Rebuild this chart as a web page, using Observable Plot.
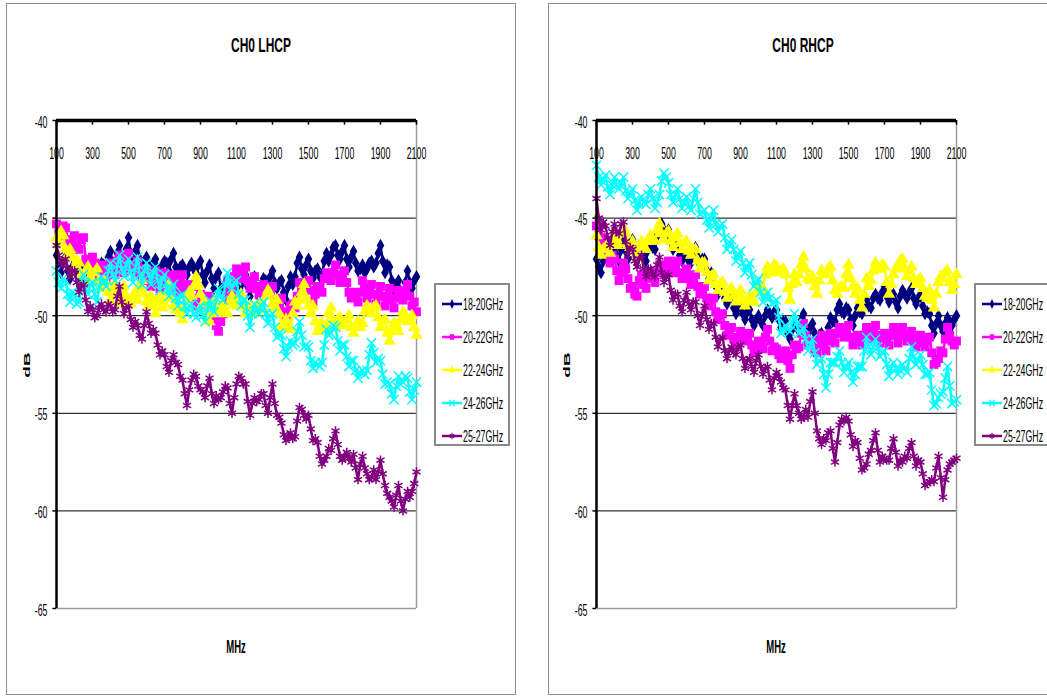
<!DOCTYPE html>
<html>
<head>
<meta charset="utf-8">
<script src="https://cdn.jsdelivr.net/npm/d3@7"></script>
<script src="https://cdn.jsdelivr.net/npm/@observablehq/plot@0.6"></script>
<style>
  body { margin: 0; background: #fff; }
  #root { position: relative; width: 1047px; height: 696px; overflow: hidden; font-family: "Liberation Sans", Arial, sans-serif; background: #fff; }
  .panel { position: absolute; top: 3px; height: 692px; border: 1px solid #8c8c8c; box-sizing: border-box; background: #fff; }
  .lbl { position: absolute; white-space: nowrap; color: #000; line-height: 1; }
  .legend { position: absolute; width: 76px; height: 163px; border: 2px solid #8a8a8a; box-sizing: border-box; background: #fff; }
  .row { position: absolute; left: 0; height: 20px; }
  .row svg { position: absolute; left: 5px; top: 3px; }
  .row span { position: absolute; left: 27px; top: 2px; font-size: 16px; white-space: nowrap; transform: scaleX(0.55); transform-origin: left center; }
  svg.chart { position: absolute; top: 0; }
</style>
</head>
<body>
<div id="root"></div>
<script>
// ---------- data ----------
// main frequency grid (MHz)
const mhz = [100,125,150,175,200,225,250,275,300,325,350,375,400,425,450,475,500,525,550,575,
  600,625,650,675,700,725,750,775,800,825,850,875,900,925,950,975,1000,1025,1050,1075,
  1100,1125,1150,1175,1200,1225,1250,1275,1300,1325,1350,1375,1400,1425,1450,1475,1500,1525,1550,1575,
  1600,1625,1650,1675,1700,1725,1750,1775,1800,1825,1850,1875,1900,1925,1950,1975,2000,2025,2050,2075,2100];
// in-between frequencies (MHz)
const mhzMid = [112.5,137.5,162.5,187.5,212.5,237.5,262.5,287.5,312.5,337.5,362.5,387.5,412.5,437.5,462.5,487.5,
  512.5,537.5,562.5,587.5,612.5,637.5,662.5,687.5,712.5,737.5,762.5,787.5,812.5,837.5,862.5,887.5,
  912.5,937.5,962.5,987.5,1012.5,1037.5,1062.5,1087.5,1112.5,1137.5,1162.5,1187.5,1212.5,1237.5,1262.5,1287.5,
  1312.5,1337.5,1362.5,1387.5,1412.5,1437.5,1462.5,1487.5,1512.5,1537.5,1562.5,1587.5,1612.5,1637.5,1662.5,1687.5,
  1712.5,1737.5,1762.5,1787.5,1812.5,1837.5,1862.5,1887.5,1912.5,1937.5,1962.5,1987.5,2012.5,2037.5,2062.5,2087.5];

const seriesNames = ["18-20GHz", "20-22GHz", "22-24GHz", "24-26GHz", "25-27GHz"];

// CH0 LHCP (dB) on mhz grid
const lhcp_18_20 = [-46.9,-47.8,-47.0,-48.1, -47.3,-48.3,-47.4,-48.2, -47.2,-47.9,-47.3,-47.8, -46.7,-47.6,-46.4,-47.5,
  -46.0,-47.3,-46.4,-47.6, -47.0,-47.7,-47.1,-47.8, -47.2,-47.7,-46.8,-47.9, -47.4,-47.9,-47.3,-47.8,
  -47.2,-48.3,-47.4,-48.6, -47.8,-49.0,-48.1,-49.0, -48.0,-48.9,-47.9,-49.0, -48.0,-49.1,-48.1,-48.6,
  -47.7,-48.6,-48.2,-49.2, -48.0,-48.0,-47.0,-47.9, -47.1,-48.1,-47.6,-47.9, -46.8,-46.9,-46.4,-47.1,
  -46.4,-47.5,-46.7,-47.7, -47.4,-47.6,-47.2,-47.3, -46.4,-47.8,-47.5,-48.7, -48.2,-49.1,-47.7,-48.6, -48.0];
const lhcp_20_22 = [-45.3,-45.9,-45.5,-46.3, -45.9,-46.6,-46.0,-47.3, -47.0,-47.9,-47.4,-48.1, -47.3,-47.9,-46.9,-47.8,
  -46.8,-47.7,-47.2,-48.2, -47.6,-48.5,-47.7,-48.6, -47.8,-48.7,-47.9,-48.8, -47.9,-48.9,-48.5,-49.4,
  -48.9,-49.4,-49.0,-50.0, -50.8,-49.9,-48.3,-48.7, -47.6,-48.1,-47.5,-48.6, -48.0,-48.9,-48.4,-48.9,
  -48.5,-49.5,-49.1,-50.1, -49.5,-49.6,-48.3,-48.7, -48.2,-49.3,-48.5,-48.8, -47.8,-48.2,-47.4,-48.3,
  -47.7,-48.8,-48.8,-49.3, -48.2,-49.1,-48.4,-49.4, -48.5,-49.5,-48.6,-49.6, -48.7,-49.2,-48.4,-49.5, -49.8];
const lhcp_22_24 = [-46.0,-45.7,-46.6,-46.6, -47.5,-47.3,-48.2,-47.5, -48.2,-47.6,-48.6,-48.3, -49.2,-48.3,-49.4,-48.5,
  -49.3,-49.0,-49.2,-48.2, -49.3,-49.0,-49.9,-49.0, -49.4,-48.4,-49.5,-49.4, -50.2,-49.1,-49.0,-48.0,
  -48.9,-49.3,-50.3,-49.3, -49.8,-49.6,-49.9,-49.0, -49.5,-48.9,-49.9,-49.5, -49.8,-49.4,-49.7,-48.7,
  -49.4,-49.2,-50.5,-50.2, -50.7,-49.3,-49.2,-48.4, -49.5,-49.5,-50.8,-50.4, -50.5,-49.6,-50.6,-50.1,
  -50.5,-50.0,-50.9,-50.3, -50.4,-49.5,-49.9,-49.5, -50.6,-50.2,-51.3,-50.4, -50.8,-49.8,-50.3,-50.0, -51.0];
const lhcp_24_26 = [-47.7,-48.6,-48.2,-49.3, -48.9,-49.3,-47.9,-48.9, -48.3,-49.3,-48.0,-48.5, -47.3,-48.2,-46.9,-48.0,
  -47.1,-48.3,-47.0,-48.4, -47.3,-48.4,-47.5,-48.7, -47.9,-49.0,-48.4,-49.5, -48.9,-49.9,-49.4,-50.1,
  -49.5,-50.3,-49.2,-49.8, -48.6,-49.2,-47.8,-48.6, -48.2,-49.5,-49.2,-50.6, -49.4,-49.9,-49.3,-50.4,
  -49.9,-51.1,-51.0,-52.1, -51.3,-51.4,-50.3,-51.6, -51.6,-52.7,-52.5,-52.4, -50.7,-50.9,-50.6,-51.8,
  -51.5,-52.6,-52.3,-53.2, -52.8,-52.8,-51.4,-52.4, -52.3,-53.5,-53.5,-54.3, -53.1,-53.4,-53.2,-54.3, -53.4];
const lhcp_25_27 = [-46.4,-47.3,-47.1,-48.0, -47.7,-48.8,-48.4,-49.8, -49.7,-50.0,-49.4,-49.8, -49.5,-49.7,-48.5,-49.9,
  -49.5,-50.6,-50.5,-51.2, -49.8,-50.9,-50.9,-52.0, -52.0,-52.9,-52.0,-52.5, -53.3,-54.6,-53.3,-53.1,
  -53.8,-54.2,-53.2,-54.5, -54.3,-53.9,-53.7,-55.0, -53.5,-53.2,-53.5,-55.1, -54.2,-54.3,-54.0,-55.0,
  -53.5,-55.1,-55.5,-56.4, -56.0,-56.2,-54.7,-55.1, -55.1,-56.4,-56.5,-57.6, -57.2,-56.9,-55.9,-57.2,
  -57.2,-57.3,-57.1,-58.4, -57.2,-58.1,-58.3,-58.4, -57.4,-58.7,-59.3,-59.8, -58.7,-60.0,-59.0,-59.0, -58.0];

// CH0 LHCP (dB) on mhzMid
const lhcp_18_20_mid = [-47.6,-47.2,-47.7,-47.5, -47.9,-47.7,-47.6,-47.4, -47.7,-47.5,-47.4,-47.0, -47.3,-46.8,-47.1,-46.6,
  -46.8,-46.7,-47.1,-47.2, -47.5,-47.3,-47.6,-47.4, -47.3,-47.1,-47.5,-47.5, -47.7,-47.5,-47.6,-47.4,
  -47.9,-47.7,-48.1,-48.0, -48.6,-48.4,-48.7,-48.3, -48.6,-48.2,-48.5,-48.4, -48.7,-48.5,-48.2,-48.0,
  -48.3,-48.3,-48.8,-48.5, -48.4,-47.3,-47.6,-47.4, -47.7,-47.7,-48.0,-47.2, -47.2,-46.5,-46.9,-46.7,
  -47.1,-47.0,-47.3,-47.6, -47.8,-47.3,-47.5,-46.8, -47.2,-47.4,-48.2,-48.4, -48.8,-48.3,-48.3,-48.2];
const lhcp_20_22_mid = [-45.8,-45.4,-46.1,-46.4, -46.5,-46.1,-47.1,-47.6, -47.3,-48.0,-47.6,-47.9, -47.5,-47.2,-47.5,-47.1,
  -47.4,-47.8,-47.6,-48.1, -48.2,-48.0,-48.3,-48.2, -48.4,-48.1,-48.5,-48.3, -48.6,-48.4,-49.1,-49.5,
  -49.3,-49.1,-49.6,-50.5, -50.3,-49.1,-48.2,-48.0, -47.8,-47.7,-48.2,-48.5, -48.6,-48.5,-48.8,-48.6,
  -49.2,-49.4,-49.8,-49.9, -49.4,-49.0,-48.6,-48.4, -48.7,-48.9,-48.6,-48.1, -47.9,-47.8,-47.9,-48.0,
  -48.3,-49.1,-49.0,-48.8, -48.6,-48.8,-48.9,-49.0, -49.0,-49.1,-49.2,-49.1, -48.9,-48.8,-49.0,-49.3];
const lhcp_22_24_mid = [-46.3,-45.9,-46.9,-47.0, -47.2,-47.9,-47.7,-48.0, -47.8,-48.3,-48.2,-48.8, -48.7,-48.9,-48.8,-49.0,
  -49.4,-48.8,-48.6,-48.9, -49.5,-49.5,-49.3,-49.6, -48.8,-49.1,-49.7,-49.9, -49.6,-48.8,-48.5,-48.4,
  -49.4,-49.9,-49.6,-49.9, -49.5,-49.8,-49.3,-49.4, -49.1,-49.5,-49.6,-49.9, -49.5,-49.6,-49.0,-48.9,
  -49.6,-49.9,-50.6,-50.6, -49.9,-49.5,-48.8,-49.1, -49.9,-50.3,-50.5,-50.7, -49.9,-50.2,-50.2,-50.4,
  -50.2,-50.6,-50.5,-50.6, -49.8,-49.8,-49.6,-50.1, -50.3,-50.9,-50.8,-50.5, -50.2,-50.0,-50.2,-50.6];
const lhcp_24_26_mid = [-48.3,-48.1,-48.9,-48.8, -49.4,-48.4,-48.6,-48.4, -48.9,-48.5,-48.3,-47.7, -47.9,-47.4,-47.6,-47.4,
  -47.8,-47.5,-47.9,-47.7, -47.9,-47.8,-48.2,-48.1, -48.6,-48.6,-49.1,-49.0, -49.5,-49.5,-49.9,-49.7,
  -50.0,-49.6,-49.6,-49.1, -49.0,-48.4,-48.3,-48.3, -48.9,-49.2,-50.0,-49.9, -49.8,-49.5,-49.9,-50.0,
  -50.6,-50.9,-51.7,-51.6, -51.5,-50.8,-51.0,-51.5, -52.3,-52.4,-52.6,-51.5, -51.0,-50.5,-51.3,-51.5,
  -52.1,-52.3,-52.8,-52.9, -53.0,-52.0,-51.9,-52.2, -53.0,-53.4,-54.0,-53.6, -53.5,-53.1,-53.9,-53.8];
const lhcp_25_27_mid = [-46.9,-47.4,-47.6,-47.7, -48.3,-48.5,-49.2,-49.5, -50.1,-49.6,-49.7,-49.4, -49.8,-49.0,-49.3,-49.6,
  -50.2,-50.3,-51.0,-50.5, -50.4,-50.7,-51.5,-51.8, -52.6,-52.3,-52.4,-53.1, -54.0,-53.8,-53.0,-53.6,
  -53.9,-53.6,-54.0,-54.1, -54.2,-53.6,-54.5,-54.2, -53.1,-53.5,-54.4,-54.5, -54.4,-54.0,-54.6,-54.2,
  -54.5,-55.2,-56.1,-56.2, -56.3,-55.4,-54.8,-55.3, -55.8,-56.3,-57.2,-57.4, -56.8,-56.3,-56.6,-57.4,
  -57.0,-57.5,-57.8,-57.6, -57.8,-58.4,-57.9,-58.0, -58.1,-59.1,-59.5,-59.2, -59.5,-59.4,-59.3,-58.6];

// CH0 RHCP (dB) on mhz grid
const rhcp_18_20 = [-47.1,-47.8,-46.9,-47.2, -46.4,-47.2,-46.2,-47.1, -46.1,-46.6,-46.3,-47.2, -46.2,-46.6,-45.5,-45.6,
  -45.6,-46.6,-46.3,-47.2, -46.9,-47.3,-46.5,-47.4, -47.1,-48.1,-47.9,-48.9, -48.6,-49.4,-49.1,-49.9,
  -49.5,-50.2,-49.7,-50.5, -50.0,-50.5,-49.7,-50.1, -49.7,-50.6,-50.3,-51.2, -50.4,-50.7,-49.9,-50.9,
  -50.4,-51.3,-50.9,-51.3, -50.1,-50.3,-49.4,-49.9, -49.7,-50.5,-49.6,-49.9, -49.2,-49.6,-48.9,-49.2,
  -48.5,-49.3,-48.9,-49.6, -48.7,-49.1,-48.6,-49.4, -49.0,-49.9,-49.9,-50.9, -50.0,-50.8,-50.1,-50.5, -50.0];
const rhcp_20_22 = [-45.4,-46.3,-46.2,-47.3, -47.1,-48.2,-47.3,-48.1, -48.5,-49.0,-47.9,-48.6, -47.8,-48.3,-47.4,-47.9,
  -47.2,-47.8,-47.2,-48.1, -47.6,-48.4,-47.9,-48.9, -48.5,-49.5,-49.1,-50.2, -49.9,-51.0,-50.6,-51.6,
  -50.8,-51.3,-50.9,-51.9, -51.3,-51.7,-50.7,-51.8, -51.7,-52.2,-51.8,-52.7, -51.5,-51.6,-50.4,-51.5,
  -51.3,-51.9,-51.0,-51.8, -50.9,-51.4,-50.6,-51.1, -50.5,-51.5,-51.0,-51.5, -50.6,-51.2,-50.5,-51.4,
  -50.9,-51.5,-50.6,-51.4, -50.6,-51.3,-50.8,-51.6, -51.0,-51.6,-51.1,-52.5, -52.2,-51.9,-50.6,-51.3, -51.3];
const rhcp_22_24 = [-45.9,-46.9,-46.5,-46.8, -46.0,-46.3,-45.5,-46.4, -46.2,-47.1,-46.2,-46.6, -45.9,-46.2,-45.3,-46.1,
  -45.7,-46.5,-45.8,-46.6, -46.2,-46.9,-46.6,-47.6, -47.3,-48.2,-47.9,-48.7, -48.3,-49.1,-48.6,-49.3,
  -48.7,-49.5,-49.0,-49.3, -48.4,-48.6,-47.5,-47.8, -47.5,-47.7,-47.9,-49.2, -47.9,-47.9,-47.0,-48.1,
  -48.0,-48.9,-47.7,-47.9, -47.5,-48.7,-48.6,-48.6, -47.4,-48.5,-48.6,-49.6, -48.1,-48.2,-47.3,-47.6,
  -47.5,-48.9,-47.9,-47.4, -47.1,-48.0,-47.5,-48.4, -48.1,-49.0,-48.7,-49.6, -48.3,-48.1,-47.7,-48.7, -47.9];
const rhcp_24_26 = [-42.3,-43.3,-42.8,-43.8, -42.9,-43.5,-42.9,-44.0, -43.5,-44.6,-43.9,-44.3, -43.5,-44.5,-43.8,-42.7,
  -43.2,-44.2,-43.5,-44.5, -43.9,-44.6,-43.5,-44.8, -44.6,-45.5,-44.6,-45.7, -45.3,-46.6,-46.1,-47.2,
  -46.7,-47.8,-47.3,-48.5, -48.1,-49.3,-48.8,-49.4, -49.2,-50.9,-50.5,-50.8, -49.9,-50.9,-50.6,-51.8,
  -51.2,-52.5,-52.2,-53.7, -52.4,-52.4,-51.8,-52.9, -52.4,-53.4,-52.6,-52.6, -51.1,-52.0,-51.2,-52.1,
  -51.8,-53.1,-52.4,-53.0, -52.5,-52.9,-51.6,-52.5, -52.0,-53.0,-52.9,-54.6, -54.2,-53.9,-52.6,-54.5, -54.3];
const rhcp_25_27 = [-44.0,-45.6,-45.4,-46.4, -45.3,-45.8,-45.2,-46.9, -46.6,-47.5,-46.9,-48.0, -47.6,-48.0,-47.0,-48.3,
  -47.9,-49.2,-48.9,-49.8, -48.8,-49.7,-49.3,-50.5, -49.5,-50.7,-50.4,-51.6, -51.1,-52.2,-51.6,-52.0,
  -51.5,-52.7,-52.2,-52.9, -52.0,-53.0,-52.6,-53.8, -52.9,-53.4,-53.8,-55.3, -54.0,-55.0,-55.2,-55.2,
  -53.9,-55.9,-56.6,-56.4, -55.9,-57.5,-55.6,-55.4, -55.4,-56.7,-56.5,-57.9, -57.6,-56.9,-56.0,-57.5,
  -57.3,-57.4,-56.3,-57.7, -57.5,-57.3,-56.5,-57.7, -57.5,-58.7,-58.5,-58.5, -57.2,-59.3,-57.9,-57.5, -57.3];

// CH0 RHCP (dB) on mhzMid
const rhcp_18_20_mid = [-47.5,-47.2,-47.1,-46.7, -46.9,-46.6,-46.7,-46.5, -46.4,-46.4,-46.8,-46.6, -46.5,-45.9,-45.3,-45.9,
  -46.2,-46.4,-46.9,-46.9, -47.2,-46.8,-47.0,-47.1, -47.7,-47.8,-48.5,-48.6, -49.1,-49.1,-49.6,-49.6,
  -49.9,-49.8,-50.2,-50.2, -50.3,-50.0,-49.9,-49.8, -50.2,-50.3,-50.9,-50.7, -50.6,-50.2,-50.5,-50.6,
  -50.9,-51.0,-51.2,-50.6, -50.3,-49.7,-49.8,-49.6, -50.2,-50.0,-49.8,-49.4, -49.5,-49.1,-49.1,-48.8,
  -49.0,-49.0,-49.3,-49.0, -48.9,-48.8,-49.1,-49.1, -49.5,-49.8,-50.5,-50.4, -50.5,-50.4,-50.3,-50.2];
const rhcp_20_22_mid = [-45.9,-46.0,-46.8,-46.9, -47.7,-47.8,-47.6,-48.6, -48.9,-48.2,-48.4,-48.0, -48.1,-47.8,-47.7,-47.4,
  -47.6,-47.4,-47.8,-47.8, -48.1,-48.0,-48.5,-48.6, -49.1,-49.2,-49.8,-49.9, -50.5,-50.7,-51.2,-51.1,
  -51.1,-51.0,-51.5,-51.5, -51.6,-51.1,-51.3,-51.6, -52.0,-51.9,-52.3,-52.0, -51.7,-50.9,-51.0,-51.4,
  -51.7,-51.4,-51.5,-51.3, -51.2,-50.9,-50.9,-50.7, -51.1,-51.2,-51.3,-51.0, -50.9,-50.8,-51.0,-51.1,
  -51.2,-51.0,-51.0,-50.9, -51.0,-51.0,-51.3,-51.2, -51.4,-51.3,-51.9,-52.4, -51.8,-51.2,-51.0,-51.5];
const rhcp_22_24_mid = [-46.5,-46.6,-46.4,-46.3, -46.4,-45.8,-45.8,-46.5, -46.7,-46.5,-46.5,-46.1, -46.2,-45.6,-45.8,-45.8,
  -46.2,-46.0,-46.3,-46.3, -46.7,-46.6,-47.2,-47.3, -47.8,-48.0,-48.4,-48.4, -48.8,-48.7,-49.0,-48.9,
  -49.2,-49.2,-49.3,-48.8, -48.7,-47.9,-47.8,-47.4, -47.8,-47.6,-48.6,-48.4, -48.3,-47.4,-47.6,-48.2,
  -48.5,-48.2,-47.9,-47.6, -48.2,-48.9,-48.5,-47.9, -48.1,-48.9,-49.2,-48.9, -48.5,-47.7,-47.6,-47.4,
  -48.3,-48.4,-47.6,-47.2, -47.6,-47.7,-48.1,-48.2, -48.6,-49.1,-49.2,-48.9, -48.0,-47.8,-48.3,-48.4];
const rhcp_24_26_mid = [-42.9,-43.0,-43.4,-43.3, -43.3,-43.2,-43.6,-43.7, -44.1,-44.2,-44.2,-43.8, -44.0,-44.2,-43.1,-42.9,
  -43.8,-43.8,-44.0,-44.2, -44.4,-44.0,-44.2,-44.7, -45.1,-45.0,-45.3,-45.4, -46.0,-46.4,-46.6,-46.9,
  -47.3,-47.5,-47.9,-48.3, -48.8,-49.0,-49.1,-49.3, -50.1,-50.7,-50.7,-50.3, -50.4,-50.8,-51.2,-51.5,
  -51.9,-52.3,-53.0,-53.0, -52.4,-52.1,-52.4,-52.6, -52.9,-53.0,-52.6,-51.8, -51.6,-51.6,-51.6,-51.9,
  -52.5,-52.7,-52.7,-52.8, -52.7,-52.2,-52.1,-52.3, -52.5,-53.0,-53.8,-54.5, -54.0,-53.2,-53.6,-54.4];
const rhcp_25_27_mid = [-45.0,-45.2,-46.0,-45.7, -45.7,-45.3,-46.2,-46.5, -47.2,-47.1,-47.6,-47.6, -47.9,-47.4,-47.8,-48.0,
  -48.7,-48.9,-49.5,-49.2, -49.4,-49.3,-50.0,-49.9, -50.2,-50.4,-51.1,-51.2, -51.8,-51.8,-51.9,-51.6,
  -52.2,-52.3,-52.6,-52.3, -52.6,-52.7,-53.3,-53.2, -53.1,-53.7,-54.6,-54.6, -54.6,-55.3,-54.8,-54.4,
  -55.0,-56.3,-56.3,-56.0, -56.8,-56.5,-55.3,-55.2, -56.1,-56.4,-57.3,-57.8, -57.1,-56.4,-56.9,-57.2,
  -57.4,-56.8,-57.0,-57.4, -57.2,-56.8,-57.2,-57.4, -58.1,-58.6,-58.4,-57.8, -58.3,-58.4,-57.6,-57.4];

const xTickLabels = [100, 300, 500, 700, 900, 1100, 1300, 1500, 1700, 1900, 2100];
const yTickLabels = [-40, -45, -50, -55, -60, -65];
const gridValues = [-45, -50, -55, -60];

// ---------- styles ----------
const colors = ["#000080", "#ff00ff", "#ffff00", "#00ffff", "#800080"];
const plotSymbols = ["diamond", "square", "triangle", "times", "asterisk"];
const d3Symbols = [d3.symbolDiamond, d3.symbolSquare, d3.symbolTriangle, d3.symbolTimes, d3.symbolAsterisk];
const symbolR = [4.0, 5.0, 4.6, 4.3, 4.4];
const filled = [true, true, true, false, false];
const TXT_K = 0.55;

const root = document.getElementById("root");

function label(text, x, y, opts = {}) {
  const d = document.createElement("div");
  d.className = "lbl";
  d.textContent = text;
  d.style.left = x + "px";
  d.style.top = y + "px";
  d.style.fontSize = (opts.size || 16) + "px";
  d.style.fontWeight = opts.bold ? "bold" : "normal";
  const k = opts.k || TXT_K;
  d.style.transform = `translate(-50%,-50%) scaleX(${k})` + (opts.rotate ? ` rotate(${opts.rotate}deg)` : "");
  root.appendChild(d);
}

function compressText(svg, k) {
  svg.querySelectorAll("text").forEach(t => {
    const tr = t.getAttribute("transform");
    if (tr) {
      t.setAttribute("transform", tr + ` scale(${k},1)`);
    } else {
      const x = +t.getAttribute("x") || 0, y = +t.getAttribute("y") || 0;
      t.removeAttribute("x"); t.removeAttribute("y");
      t.setAttribute("transform", `translate(${x},${y}) scale(${k},1)`);
    }
  });
}

function makeRows(main, mid) {
  const rows = mhz.map((m, i) => ({mhz: m, db: main[i]}))
    .concat(mhzMid.map((m, i) => ({mhz: m, db: mid[i]})))
    .filter(d => d.db !== undefined);
  return d3.sort(rows, d => d.mhz);
}

function makePanel(panelLeft, panelWidth, svgLeft, title, seriesMain, seriesMid) {
  const p = document.createElement("div");
  p.className = "panel";
  p.style.left = panelLeft + "px";
  p.style.width = panelWidth + "px";
  root.appendChild(p);

  const marks = [
    Plot.ruleY(gridValues, {y: d => d, stroke: "#000", strokeWidth: 1}),
    Plot.ruleY([-65], {stroke: "#9a9a9a", strokeWidth: 1.5}),
    Plot.ruleX([2100], {stroke: "#9a9a9a", strokeWidth: 1.5})
  ];
  seriesMain.forEach((vals, s) => {
    const rows = makeRows(vals, seriesMid[s]);
    marks.push(Plot.line(rows, {x: "mhz", y: "db", stroke: colors[s], strokeWidth: 2.5}));
    marks.push(Plot.dot(rows, filled[s]
      ? {x: "mhz", y: "db", symbol: () => plotSymbols[s], r: symbolR[s], fill: colors[s], stroke: "none"}
      : {x: "mhz", y: "db", symbol: () => plotSymbols[s], r: symbolR[s], stroke: colors[s], strokeWidth: 1.5, fill: "none"}));
  });
  marks.push(
    Plot.ruleX([100], {stroke: "#000", strokeWidth: 2.5}),
    Plot.ruleY([-40], {stroke: "#000", strokeWidth: 3.5}),
    Plot.ruleX(xTickLabels, {x: d => d, y1: -40, y2: -40.24, stroke: "#000", strokeWidth: 1.5}),
    Plot.ruleY(yTickLabels, {y: d => d, x1: 80, x2: 100, stroke: "#000", strokeWidth: 1.5}),
    Plot.text(xTickLabels, {x: d => d, y: -40, dy: 33, text: d => String(d), fontSize: 16, fill: "#000"}),
    Plot.text(yTickLabels, {x: 100, y: d => d, dx: -9, dy: 2, textAnchor: "end", text: d => String(d), fontSize: 16, fill: "#000"})
  );

  const svg = Plot.plot({
    width: 520, height: 696,
    marginLeft: 56, marginRight: 104, marginTop: 120, marginBottom: 88,
    x: {domain: [100, 2100], axis: null},
    y: {domain: [-65, -40], axis: null},
    style: {background: "transparent", overflow: "visible", fontFamily: "Liberation Sans, Arial, sans-serif"},
    marks
  });
  svg.classList.add("chart");
  svg.style.left = svgLeft + "px";
  compressText(svg, TXT_K);
  root.appendChild(svg);

  const plotLeft = svgLeft + 56, plotRight = svgLeft + 416;
  label(title, panelLeft + panelWidth / 2 - (panelWidth > 510 ? 5 : 0), 45, {size: 20, bold: true, k: 0.6});
  label("MHz", (plotLeft + plotRight) / 2, 646, {size: 19, bold: true, k: 0.5});
  label("dB", svgLeft + 27, 365, {size: 19, bold: true, k: 0.5, rotate: -90});

  // legend
  const lg = document.createElement("div");
  lg.className = "legend";
  lg.style.left = (plotRight + 18) + "px";
  lg.style.top = "283px";
  seriesNames.forEach((name, s) => {
    const row = document.createElement("div");
    row.className = "row";
    row.style.top = (9 + s * 33) + "px";
    const ns = "http://www.w3.org/2000/svg";
    const sw = document.createElementNS(ns, "svg");
    sw.setAttribute("width", 22); sw.setAttribute("height", 14);
    const ln = document.createElementNS(ns, "line");
    ln.setAttribute("x1", 1); ln.setAttribute("x2", 21); ln.setAttribute("y1", 7); ln.setAttribute("y2", 7);
    ln.setAttribute("stroke", colors[s]); ln.setAttribute("stroke-width", 2.5);
    sw.appendChild(ln);
    const pth = document.createElementNS(ns, "path");
    pth.setAttribute("d", d3.symbol(d3Symbols[s], 30)());
    pth.setAttribute("transform", "translate(11,7) scale(0.8,1)");
    if (filled[s]) { pth.setAttribute("fill", colors[s]); }
    else { pth.setAttribute("fill", "none"); pth.setAttribute("stroke", colors[s]); pth.setAttribute("stroke-width", 1.3); }
    sw.appendChild(pth);
    row.appendChild(sw);
    const sp = document.createElement("span");
    sp.textContent = name;
    row.appendChild(sp);
    lg.appendChild(row);
  });
  root.appendChild(lg);
}

makePanel(6, 510, 0, "CH0 LHCP",
  [lhcp_18_20, lhcp_20_22, lhcp_22_24, lhcp_24_26, lhcp_25_27],
  [lhcp_18_20_mid, lhcp_20_22_mid, lhcp_22_24_mid, lhcp_24_26_mid, lhcp_25_27_mid]);
makePanel(548, 520, 540, "CH0 RHCP",
  [rhcp_18_20, rhcp_20_22, rhcp_22_24, rhcp_24_26, rhcp_25_27],
  [rhcp_18_20_mid, rhcp_20_22_mid, rhcp_22_24_mid, rhcp_24_26_mid, rhcp_25_27_mid]);
</script>
</body>
</html>
